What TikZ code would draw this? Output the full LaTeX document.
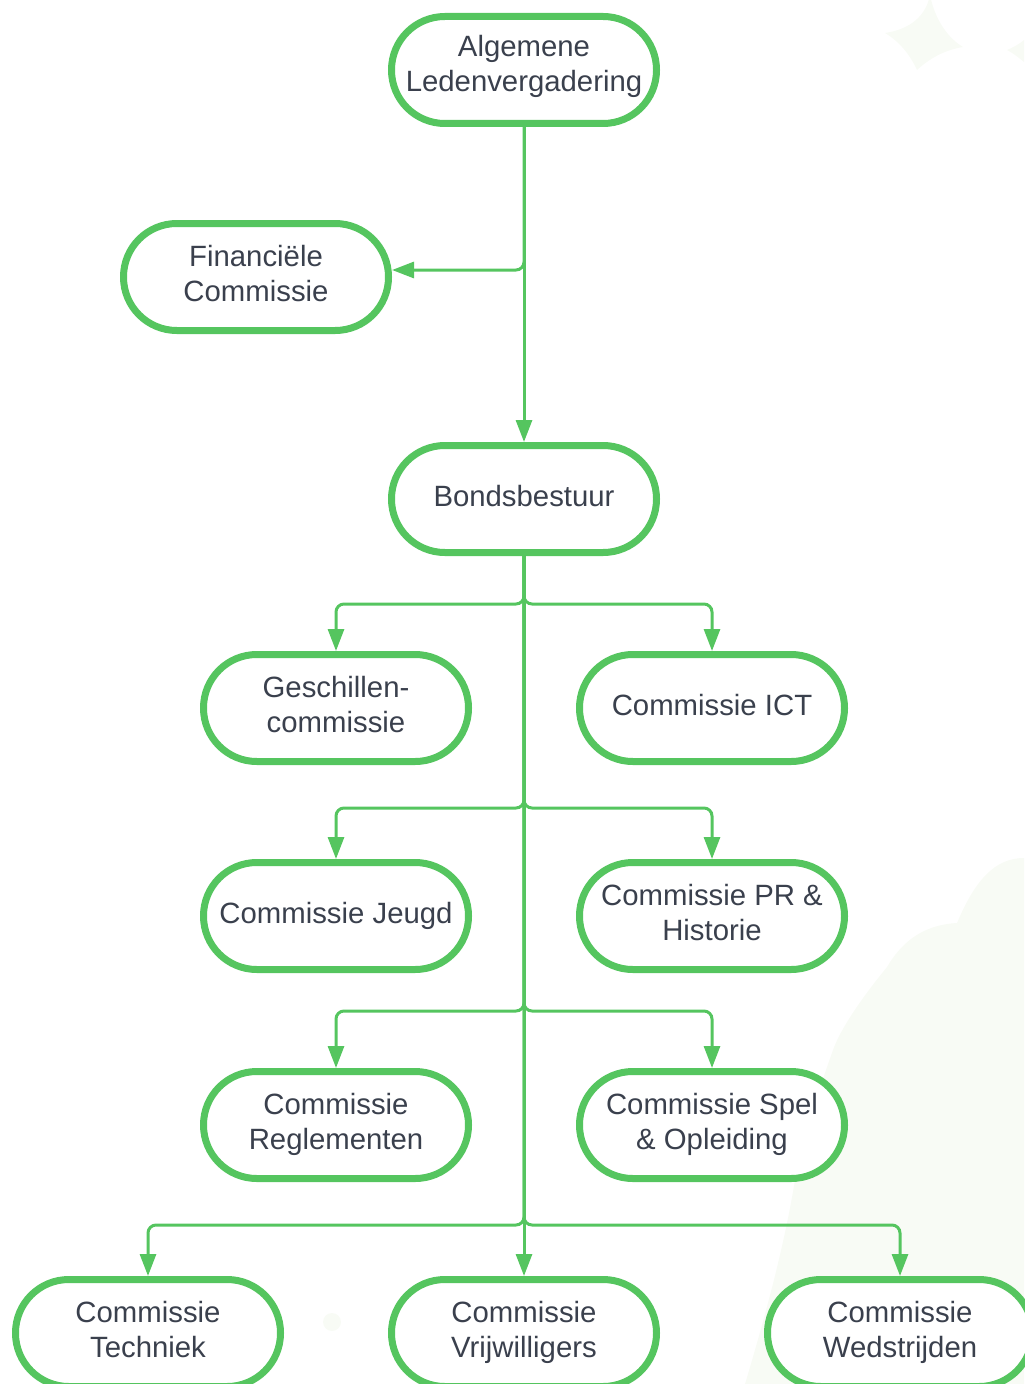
\documentclass[tikz,border=0pt]{standalone}
\usepackage{fontspec}
\setmainfont{Liberation Sans}
\usetikzlibrary{arrows.meta,calc}
\definecolor{grn}{RGB}{85,197,95}
\definecolor{txt}{RGB}{58,64,77}
\definecolor{deco}{RGB}{248,251,245}
\newcommand\mylbl[2][0pt]{\raisebox{#1}[\height][\depth]{\begin{tabular}{@{}c@{}}#2\end{tabular}}}
\begin{document}
\begin{tikzpicture}[x=0.75pt,y=-0.75pt,
  box/.style={draw=grn, line width=5.25pt, rounded corners=40pt,
    minimum width=198.75pt, minimum height=80.25pt,
    font=\fontsize{22}{26.5}\selectfont, text=txt, fill=white, inner sep=0pt},
  conn/.style={draw=grn, line width=2.25pt, rounded corners=6pt,
    -{Triangle[length=16.5pt,width=12pt]}}]
\useasboundingbox (0,0) rectangle (1024,1384);
% faint background decoration
\fill[deco] (930,-5) .. controls (925,20) and (905,30) .. (885,33)
  .. controls (900,42) and (910,55) .. (917,70)
  .. controls (930,58) and (945,50) .. (963,47)
  .. controls (948,38) and (935,20) .. (930,-5) -- cycle;
\fill[deco] (1024,40) .. controls (1018,45) and (1012,48) .. (1007,50)
  .. controls (1013,53) and (1019,58) .. (1024,62) -- cycle;
\fill[deco] (1024,858) .. controls (995,858) and (975,880) .. (957,923)
  .. controls (920,925) and (900,945) .. (887,967)
  .. controls (860,1000) and (840,1030) .. (833,1050)
  .. controls (815,1100) and (800,1150) .. (795,1180)
  .. controls (785,1240) and (770,1300) .. (745,1384)
  -- (1024,1384) -- cycle;
\fill[deco] (332,1322) circle (9);
% nodes
\node[box] (alv) at (524,70) {\mylbl[2.25pt]{Algemene\\Ledenvergadering}};
\node[box] (fc) at (256,277) {\mylbl{Financiële\\Commissie}};
\node[box] (bb) at (524,499) {\mylbl{Bondsbestuur}};
\node[box] (gc) at (336,708) {\mylbl{Geschillen-\\commissie}};
\node[box] (ict) at (712,708) {\mylbl{Commissie ICT}};
\node[box] (jg) at (336,916) {\mylbl{Commissie Jeugd}};
\node[box] (pr) at (712,916) {\mylbl{Commissie PR \&\\Historie}};
\node[box] (rg) at (336,1125) {\mylbl{Commissie\\Reglementen}};
\node[box] (sp) at (712,1125) {\mylbl{Commissie Spel\\\& Opleiding}};
\node[box] (tc) at (148,1333) {\mylbl{Commissie\\Techniek}};
\node[box] (vw) at (524,1333) {\mylbl{Commissie\\Vrijwilligers}};
\node[box] (ws) at (900,1333) {\mylbl{Commissie\\Wedstrijden}};
% branch points
\coordinate (fj) at (524,270);
\coordinate (j1) at (524,604);
\coordinate (j2) at (524,808);
\coordinate (j3) at (524,1011);
\coordinate (j4) at (524,1225);
% connectors
\draw[conn] (alv.south) -- (bb.north);
\draw[conn] (alv.south) -- (fj) -- (fj -| fc.east);
\draw[conn] (bb.south) -- (vw.north);
\draw[conn] (bb.south) -- (j1) -| (gc.north);
\draw[conn] (bb.south) -- (j1) -| (ict.north);
\draw[conn] (bb.south) -- (j2) -| (jg.north);
\draw[conn] (bb.south) -- (j2) -| (pr.north);
\draw[conn] (bb.south) -- (j3) -| (rg.north);
\draw[conn] (bb.south) -- (j3) -| (sp.north);
\draw[conn] (bb.south) -- (j4) -| (tc.north);
\draw[conn] (bb.south) -- (j4) -| (ws.north);
\end{tikzpicture}
\end{document}
